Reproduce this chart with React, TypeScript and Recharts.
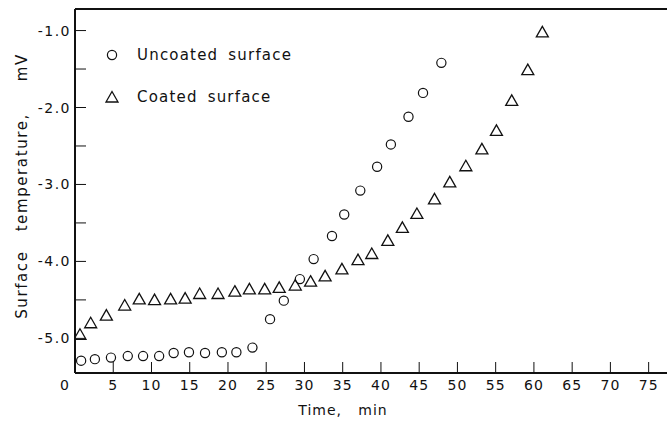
import { ScatterChart, Scatter, XAxis, YAxis, ReferenceLine, Label } from "recharts";

// Time (min) and surface temperature (mV)
const uncoatedTime = [0.8, 2.6, 4.7, 6.9, 8.9, 11.0, 12.9, 14.9, 17.0, 19.2, 21.1, 23.2, 25.5, 27.3, 29.4, 31.2, 33.6, 35.2, 37.3, 39.5, 41.3, 43.6, 45.5, 47.9];
const uncoatedMv = [-5.29, -5.27, -5.25, -5.23, -5.23, -5.23, -5.19, -5.18, -5.19, -5.18, -5.18, -5.12, -4.75, -4.51, -4.23, -3.97, -3.67, -3.39, -3.08, -2.77, -2.48, -2.12, -1.81, -1.42];

const coatedTime = [0.65, 2.05, 4.1, 6.5, 8.4, 10.4, 12.5, 14.4, 16.3, 18.7, 20.9, 22.8, 24.8, 26.7, 28.8, 30.8, 32.7, 34.9, 37.0, 38.8, 40.9, 42.8, 44.7, 47.0, 49.0, 51.1, 53.2, 55.1, 57.1, 59.2, 61.1];
const coatedMv = [-4.96, -4.81, -4.71, -4.58, -4.5, -4.51, -4.5, -4.49, -4.43, -4.43, -4.4, -4.37, -4.37, -4.35, -4.32, -4.27, -4.2, -4.11, -3.99, -3.91, -3.74, -3.57, -3.39, -3.2, -2.98, -2.77, -2.55, -2.31, -1.92, -1.52, -1.03];

const xTicks = [0, 5, 10, 15, 20, 25, 30, 35, 40, 45, 50, 55, 60, 65, 70, 75];
const yTicks = [-5.0, -4.5, -4.0, -3.5, -3.0, -2.5, -2.0, -1.5, -1.0];
const yLabelled = [-5.0, -4.0, -3.0, -2.0, -1.0];

const xDomain = [0, 77.4];
const yDomain = [-5.45, -0.72];

const uncoated = uncoatedTime.map((t, i) => ({ t, mv: uncoatedMv[i] }));
const coated = coatedTime.map((t, i) => ({ t, mv: coatedMv[i] }));

const FONT = "'DejaVu Sans', sans-serif";
const INK = "#111";

const circleShape = (props: any) => (
  <circle cx={props.cx} cy={props.cy} r={4.6} fill="none" stroke={INK} strokeWidth={1.2} />
);

const triangleShape = (props: any) => {
  const { cx, cy } = props;
  return (
    <path
      d={`M${cx},${cy - 6.5} L${cx + 6},${cy + 4} L${cx - 6},${cy + 4} Z`}
      fill="none"
      stroke={INK}
      strokeWidth={1.3}
    />
  );
};

const xTick = (props: any) => {
  const v = props.payload.value;
  return (
    <text
      x={props.x + (v === 0 ? -10 : 0)}
      y={props.y}
      dy="0.71em"
      textAnchor="middle"
      fontFamily={FONT}
      fontSize={14}
      letterSpacing={1}
      fill={INK}
    >
      {v}
    </text>
  );
};

const yTick = (props: any) => {
  const v = props.payload.value;
  if (!yLabelled.includes(v)) return <g />;
  return (
    <text
      x={props.x}
      y={props.y}
      dy="0.36em"
      textAnchor="end"
      fontFamily={FONT}
      fontSize={14}
      letterSpacing={1.5}
      fill={INK}
    >
      {v.toFixed(1)}
    </text>
  );
};

function LegendBox() {
  return (
    <div
      style={{
        position: "absolute",
        left: 100,
        top: 45,
        fontFamily: FONT,
        fontSize: 15,
        letterSpacing: 1.2,
        wordSpacing: 4,
        color: INK,
        pointerEvents: "none",
      }}
    >
      <div style={{ display: "flex", alignItems: "center", height: 20 }}>
        <svg width={37} height={20}>
          <circle cx={12} cy={10} r={4.6} fill="none" stroke={INK} strokeWidth={1.2} />
        </svg>
        <span>Uncoated surface</span>
      </div>
      <div style={{ display: "flex", alignItems: "center", height: 20, marginTop: 22 }}>
        <svg width={37} height={20}>
          <path d="M12,4.5 L18,15 L6,15 Z" fill="none" stroke={INK} strokeWidth={1.3} />
        </svg>
        <span>Coated surface</span>
      </div>
    </div>
  );
}

export default function App() {
  return (
    <div style={{ position: "absolute", left: 0, top: 0, width: 667, height: 426, background: "#fff" }}>
      <ScatterChart width={667} height={426} margin={{ top: 9, right: 0, bottom: 0, left: 0 }}>
        <XAxis
          type="number"
          dataKey="t"
          domain={xDomain}
          allowDataOverflow
          ticks={xTicks}
          interval={0}
          height={53}
          tickSize={-11}
          tickMargin={18}
          tick={xTick}
          axisLine={{ stroke: INK, strokeWidth: 2 }}
          tickLine={{ stroke: INK, strokeWidth: 1 }}
        >
          <Label
            content={() => (
              <text x={343} y={415} textAnchor="middle" fontFamily={FONT} fontSize={14} letterSpacing={1} fill={INK} style={{ whiteSpace: "pre" }}>
                {"Time,   min"}
              </text>
            )}
          />
        </XAxis>
        <YAxis
          type="number"
          dataKey="mv"
          domain={yDomain}
          allowDataOverflow
          ticks={yTicks}
          interval={0}
          width={75}
          tickSize={-11}
          tickMargin={15}
          tick={yTick}
          axisLine={{ stroke: INK, strokeWidth: 2 }}
          tickLine={{ stroke: INK, strokeWidth: 1 }}
        >
          <Label
            content={() => (
              <text
                x={22}
                y={186}
                transform="rotate(-90 22 186)"
                textAnchor="middle"
                dominantBaseline="central"
                fontFamily={FONT}
                fontSize={15}
                letterSpacing={1.6}
                fill={INK}
                style={{ whiteSpace: "pre" }}
              >
                {"Surface   temperature,     mV"}
              </text>
            )}
          />
        </YAxis>
        <ReferenceLine y={yDomain[1]} stroke={INK} strokeWidth={2} />
        <Scatter name="Uncoated surface" data={uncoated} shape={circleShape} isAnimationActive={false} />
        <Scatter name="Coated surface" data={coated} shape={triangleShape} isAnimationActive={false} />
      </ScatterChart>
      <LegendBox />
    </div>
  );
}
